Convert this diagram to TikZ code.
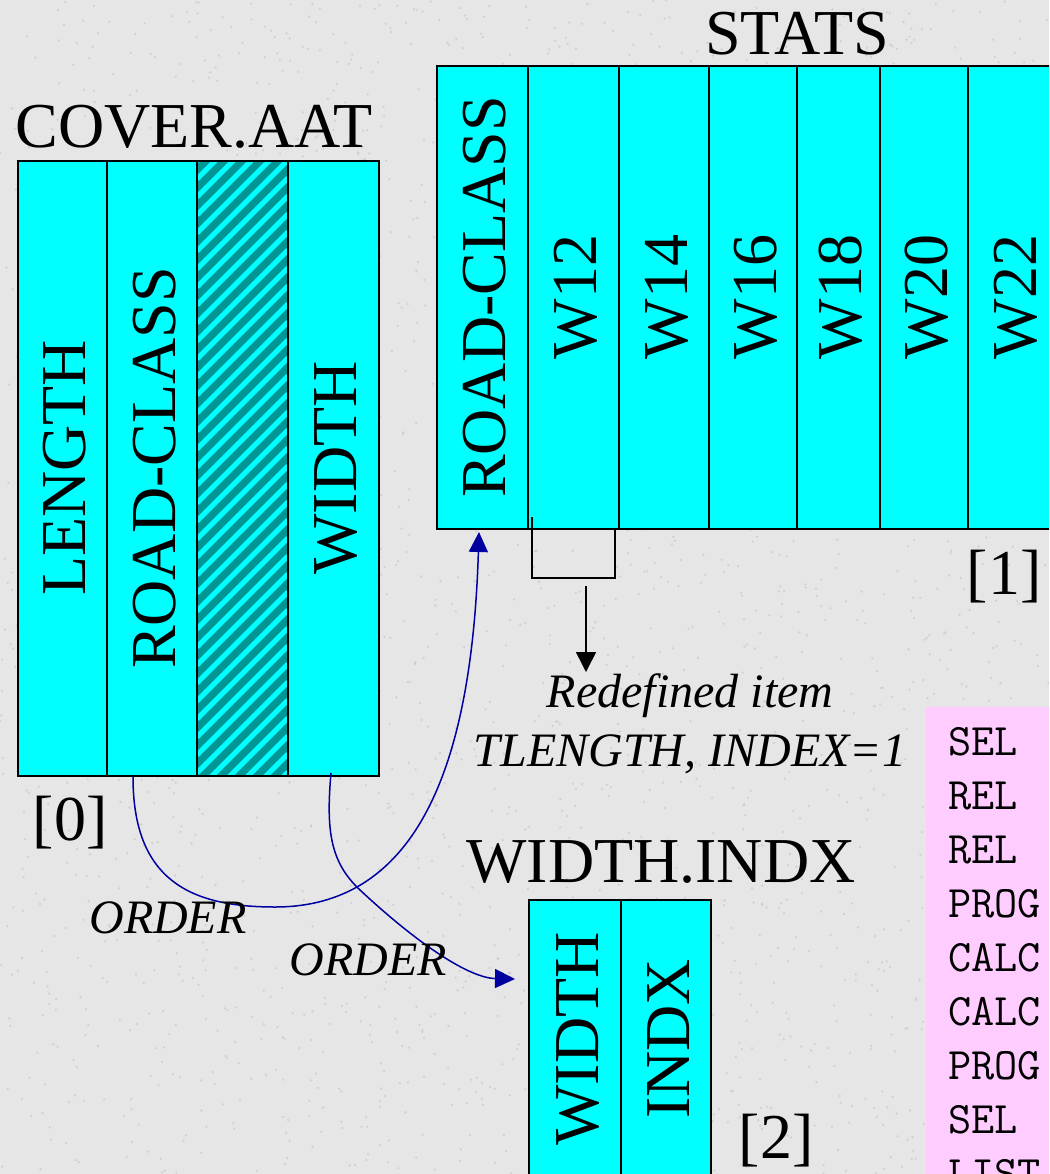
\documentclass[tikz,border=0pt]{standalone}
\usepackage{fontspec}
\setmainfont{Liberation Serif}
\usetikzlibrary{arrows.meta}

\definecolor{aqua}{RGB}{0,255,255}
\definecolor{hatchdark}{RGB}{0,150,150}
\definecolor{lilac}{RGB}{255,204,255}
\definecolor{linkblue}{RGB}{0,0,160}
\definecolor{paper}{RGB}{230,230,230}

\begin{document}
\begin{tikzpicture}[x=1pt, y=-1pt,
  col/.style={draw=black, line width=1.5pt, fill=aqua},
  collabel/.style={rotate=90, font=\fontsize{64}{64}\selectfont, text height=42pt, text depth=0pt, inner sep=0pt},
  tabtitle/.style={anchor=base, font=\fontsize{64}{64}\selectfont, inner sep=0pt},
  note/.style={anchor=base, font=\fontsize{48}{48}\selectfont\itshape, inner sep=0pt},
  code/.style={anchor=base west, font=\fontsize{45}{54}\selectfont\ttfamily, inner sep=0pt},
  link/.style={linkblue, line width=1.5pt, -{Triangle[length=20pt, width=19pt]}}]

  \useasboundingbox (0,0) rectangle (1049,1174);
  \clip (0,0) rectangle (1049,1174);
  \fill[paper] (0,0) rectangle (1049,1174);

  % granite specks
  \pgfmathsetseed{7}
  \foreach \i in {1,...,2500}
    \fill[gray!60, opacity=0.4] ({rnd*1049},{rnd*1174}) circle (1.3);

  % COVER.AAT
  \node[tabtitle] (coverT) at (194,148) {COVER.AAT};
  \foreach \xa/\xb/\lab/\nm in {18/107/LENGTH/cLen, 107/197/ROAD-CLASS/cRoad, 288/379/WIDTH/cWid} {
    \filldraw[col] (\xa,161) rectangle (\xb,776);
    \node[collabel] (\nm) at ({(\xa+\xb)/2+2},468) {\lab};
  }
  \fill[hatchdark] (197,161) rectangle (288,776);
  \begin{scope}
    \clip (197,161) rectangle (288,776);
    \foreach \k in {0,...,40}
      \draw[aqua, line width=5pt] (197,{161+18*\k}) -- ++(91,-91);
  \end{scope}
  \draw[line width=1.5pt] (197,161) rectangle (288,776);
  \node[tabtitle] (coverN) at (70,840) {[0]};

  % STATS
  \node[tabtitle] (statsT) at (797,55) {STATS};
  \foreach \xa/\xb/\lab/\nm in {437/528/ROAD-CLASS/sRoad, 528/619/W12/sW12, 619/709/W14/sW14, 709/797/W16/sW16, 797/880/W18/sW18, 880/968/W20/sW20, 968/1058/W22/sW22} {
    \filldraw[col] (\xa,66) rectangle (\xb,529);
    \node[collabel] (\nm) at ({(\xa+\xb)/2+2},297) {\lab};
  }
  \node[tabtitle] (statsN) at (1004,594) {[1]};

  % redefined item
  \draw[line width=1.5pt] (532,517) -- (532,578) -- (615,578) -- (615,528);
  \coordinate (itemTop) at (586,586);
  \coordinate (itemTip) at (586,672);
  \draw[line width=1.5pt, -{Triangle[length=20pt, width=20pt]}] (itemTop) -- (itemTip);
  \node[note] (redef) at (690,707) {Redefined item};
  \node[note] (tlen) at (690,766) {TLENGTH, INDEX=1};

  % WIDTH.INDX
  \node[tabtitle] (indxT) at (661,882) {WIDTH.INDX};
  \foreach \xa/\xb/\lab/\nm in {529/621/WIDTH/iWid, 621/711/INDX/iIdx} {
    \filldraw[col] (\xa,900) rectangle (\xb,1180);
    \node[collabel] (\nm) at ({(\xa+\xb)/2+2},1039) {\lab};
  }
  \node[tabtitle] (indxN) at (776,1158) {[2]};

  % command list
  \fill[lilac] (926,707) rectangle (1060,1180);
  \foreach \cmd [count=\i] in {SEL,REL,REL,PROG,CALC,CALC,PROG,SEL,LIST}
    \node[code] (cmd\i) at (948,{755+54*(\i-1)}) {\cmd};

  % ORDER links
  \coordinate (roadOut) at (133,777);
  \coordinate (roadIn) at (479,532);
  \coordinate (widOut) at (331,773);
  \coordinate (widIn) at (515,979);
  \draw[link] (roadOut) .. controls (133,880) and (190,907) .. (275,907)
    .. controls (420,907) and (472,760) .. (roadIn);
  \draw[link] (widOut) .. controls (326,830) and (330,862) .. (360,890)
    .. controls (420,946) and (470,978) .. (widIn);
  \node[note] (ord1) at (168,933) {ORDER};
  \node[note] (ord2) at (368,975) {ORDER};

\end{tikzpicture}
\end{document}
